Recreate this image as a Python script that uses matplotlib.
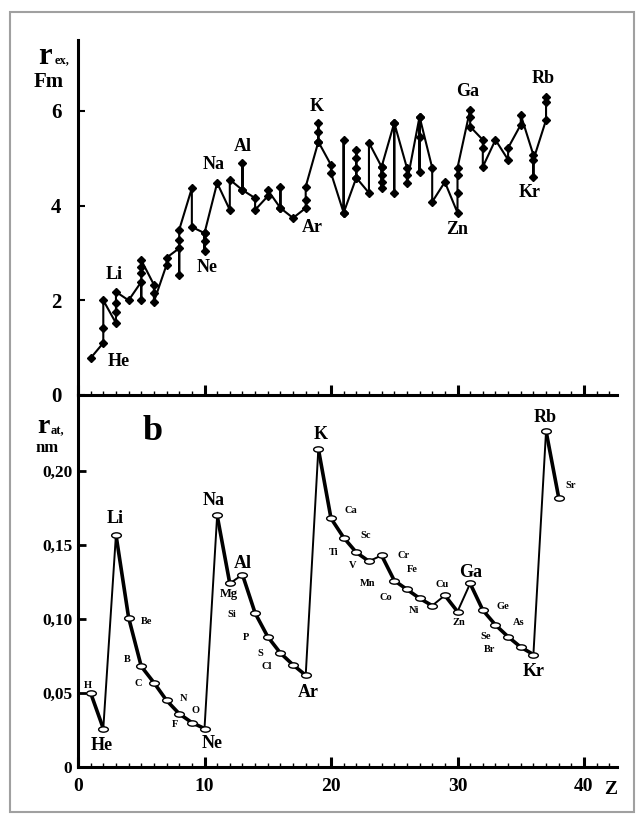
import matplotlib
matplotlib.use("Agg")
import matplotlib.pyplot as plt
from matplotlib.path import Path
from matplotlib.transforms import Affine2D
from matplotlib.patches import Rectangle
from matplotlib.ticker import MultipleLocator, FixedLocator, FuncFormatter

plt.rcParams['font.family'] = ['Liberation Serif', 'DejaVu Serif']
plt.rcParams['font.weight'] = 'bold'

# ---- panel a: r_ex (Fm), several values per element, Z = 1..37
z_ex = list(range(1, 38))
r_ex = [
    [0.78],                          # H
    [1.1, 1.42, 2.0],                # He
    [1.52, 1.75, 1.95, 2.18],        # Li
    [2.0],                           # Be
    [2.39, 2.0, 2.58, 2.7, 2.85],    # B
    [2.33, 2.15, 1.97],              # C
    [2.75, 2.9],                     # N
    [3.1, 2.54, 3.28, 3.49],         # O
    [4.37, 3.55],                    # F
    [3.42, 3.05, 3.25, 3.42],        # Ne
    [4.48],                          # Na
    [3.91, 4.55],                    # Mg
    [4.33, 4.9, 4.33],               # Al
    [4.16, 3.91],                    # Si
    [4.2, 4.33],                     # P
    [3.95, 4.4, 3.95],               # S
    [3.74],                          # Cl
    [3.95, 4.12, 4.4],               # Ar
    [5.35, 5.56, 5.75, 5.35],        # K
    [4.86, 4.69],                    # Ca
    [3.85, 5.39, 3.85],              # Sc
    [4.59, 4.8, 5.0, 5.18, 4.59],    # Ti
    [4.27, 5.33],                    # V
    [4.82, 4.65, 4.5, 4.38, 4.82],   # Cr
    [5.75, 4.27, 5.75],              # Mn
    [4.8, 4.65, 4.48],               # Fe
    [5.88, 4.72, 5.46, 5.88],        # Co
    [4.8, 4.08],                     # Ni
    [4.5],                           # Cu
    [3.85, 4.27, 4.65, 4.8],         # Zn
    [6.03, 5.88, 5.67],              # Ga
    [5.39, 5.22, 4.82],              # Ge
    [5.39],                          # As
    [4.97, 5.22],                    # Se
    [5.71, 5.92],                    # Br
    [5.07, 4.61, 4.97],              # Kr
    [5.81, 6.2, 6.3],                # Rb
]
# label text -> (x, y) in data units
ex_labels = {
    'He': (3.2, 0.70), 'Li': (2.9, 2.54), 'Ne': (10.2, 2.7), 'Na': (10.7, 4.86),
    'Al': (13.0, 5.24), 'Ar': (18.5, 3.53), 'K': (18.9, 6.09), 'Ga': (30.8, 6.41),
    'Zn': (30.0, 3.49), 'Rb': (36.8, 6.68), 'Kr': (35.7, 4.27),
}

# ---- panel b: r_at (nm), Z = 1..38
symbols = ['H', 'He', 'Li', 'Be', 'B', 'C', 'N', 'O', 'F', 'Ne', 'Na', 'Mg', 'Al',
           'Si', 'P', 'S', 'Cl', 'Ar', 'K', 'Ca', 'Sc', 'Ti', 'V', 'Cr', 'Mn',
           'Fe', 'Co', 'Ni', 'Cu', 'Zn', 'Ga', 'Ge', 'As', 'Se', 'Br', 'Kr',
           'Rb', 'Sr']
z_at = list(range(1, 39))
r_at = [0.050, 0.026, 0.157, 0.101, 0.068, 0.057, 0.045, 0.036, 0.030, 0.026,
        0.170, 0.124, 0.130, 0.104, 0.088, 0.077, 0.069, 0.062,
        0.215, 0.168, 0.155, 0.145, 0.139, 0.143, 0.126, 0.120, 0.114, 0.109,
        0.116, 0.105, 0.124, 0.106, 0.096, 0.088, 0.081, 0.076,
        0.227, 0.182]
big = {'He', 'Li', 'Ne', 'Na', 'Al', 'Ar', 'K', 'Ga', 'Kr', 'Rb'}
# label offsets from the point, in pixels
at_offsets = {
    'H': (-3, 8), 'He': (-2, -17), 'Li': (-1, 16), 'Be': (18, -4), 'B': (-14, 7),
    'C': (-16, -1), 'N': (17, 2), 'O': (16, 3), 'F': (-17, -2), 'Ne': (8, -15),
    'Na': (-4, 15), 'Mg': (-1, -11), 'Al': (0, 11), 'Si': (-23, -1), 'P': (-22, -1),
    'S': (-20, 0), 'Cl': (-26, -2), 'Ar': (3, -17), 'K': (2, 14), 'Ca': (20, 8),
    'Sc': (22, 2), 'Ti': (-23, 0), 'V': (-16, -4), 'Cr': (22, 0), 'Mn': (-27, -3),
    'Fe': (5, 20), 'Co': (-34, 1), 'Ni': (-18, -5), 'Cu': (-3, 11), 'Zn': (1, -11),
    'Ga': (0, 11), 'Ge': (20, 4), 'As': (23, 2), 'Se': (-22, 0), 'Br': (-31, -2),
    'Kr': (0, -17), 'Rb': (-1, 14), 'Sr': (12, 12),
}

W, H = 637, 814
fig = plt.figure(figsize=(W / 100, H / 100), dpi=100)
fig.patches.append(Rectangle((10 / W, 2 / H), 624 / W, 800 / H, transform=fig.transFigure,
                             fill=False, edgecolor='#a0a0a0', linewidth=1.5))

ax1 = fig.add_axes([78 / W, 1 - 395 / H, 539 / W, 355 / H])
ax2 = fig.add_axes([78 / W, 1 - 767 / H, 539 / W, 372 / H])
xmax = 539 / 12.65

# panel a
xs, ys = [], []
for z, vals in zip(z_ex, r_ex):
    xs += [z] * len(vals)
    ys += vals
ax1.plot(xs, ys, color='black', lw=1.5, marker='D', ms=4.5, mfc='black', mec='black')
for name, (x, y) in ex_labels.items():
    ax1.text(x, y, name, fontsize=13, fontweight='bold', ha='center', va='center')
ax1.set_xlim(0, xmax)
ax1.set_ylim(0, 7.5)
ax1.yaxis.set_major_locator(FixedLocator([0, 2, 4, 6]))
ax1.xaxis.set_major_locator(MultipleLocator(10))
ax1.xaxis.set_minor_locator(MultipleLocator(1))
ax1.set_xticklabels([])
ax1.tick_params(axis='y', direction='in', length=5, width=1.5, labelsize=15, pad=12)
ax1.tick_params(axis='x', which='major', direction='in', length=7, width=2.2)
ax1.tick_params(axis='x', which='minor', direction='in', length=3, width=1)

# panel b
ell = Affine2D().scale(1.0, 0.55).transform_path(Path.unit_circle())
for i in range(len(z_at) - 1):
    down = r_at[i + 1] < r_at[i]
    ax2.plot(z_at[i:i + 2], r_at[i:i + 2], color='black',
             lw=2.6 if down else 1.4, solid_capstyle='round')
ax2.plot(z_at, r_at, ls='none', marker=ell, ms=7, mfc='white', mec='black', mew=1.0)
for s, z, r in zip(symbols, z_at, r_at):
    dx, dy = at_offsets[s]
    size = 13 if s in big else (9 if s == 'Mg' else 7.5)
    ax2.annotate(s, (z, r), xytext=(dx, dy), textcoords='offset pixels',
                 fontsize=size, fontweight='bold', ha='center', va='center')
ax2.set_xlim(0, xmax)
ax2.set_ylim(0, 372 / 1480)
ax2.yaxis.set_major_locator(FixedLocator([0, 0.05, 0.10, 0.15, 0.20]))
ax2.yaxis.set_major_formatter(FuncFormatter(
    lambda v, p: '0' if v == 0 else f'{v:.2f}'.replace('.', ',')))
ax2.xaxis.set_major_locator(MultipleLocator(10))
ax2.xaxis.set_minor_locator(MultipleLocator(1))
ax2.tick_params(axis='y', direction='in', length=6, width=2, labelsize=12.5, pad=4)
ax2.tick_params(axis='x', which='major', direction='in', length=7, width=2.2,
                labelsize=14, pad=8)
ax2.tick_params(axis='x', which='minor', direction='in', length=3, width=1)

for ax in (ax1, ax2):
    ax.set_facecolor('none')
    for side in ('top', 'right'):
        ax.spines[side].set_visible(False)
    for side in ('left', 'bottom'):
        ax.spines[side].set_linewidth(2.2)

# axis titles
def ftext(x, y, s, **kw):
    fig.text(x / W, 1 - y / H, s, fontweight='bold', **kw)

ftext(45, 56, 'r', fontsize=22, ha='center', va='center')
ftext(55, 60, 'ex,', fontsize=9, ha='left', va='center')
ftext(49, 82, 'Fm', fontsize=15, ha='center', va='center')
ftext(43, 426, 'r', fontsize=20, ha='center', va='center')
ftext(51, 431, 'at,', fontsize=9, ha='left', va='center')
ftext(47, 448, 'nm', fontsize=12, ha='center', va='center')
ftext(153, 432, 'b', fontsize=26, ha='center', va='center')
ftext(611, 790, 'Z', fontsize=14, ha='center', va='center')

fig.savefig('out.png', dpi=100, facecolor='white')
